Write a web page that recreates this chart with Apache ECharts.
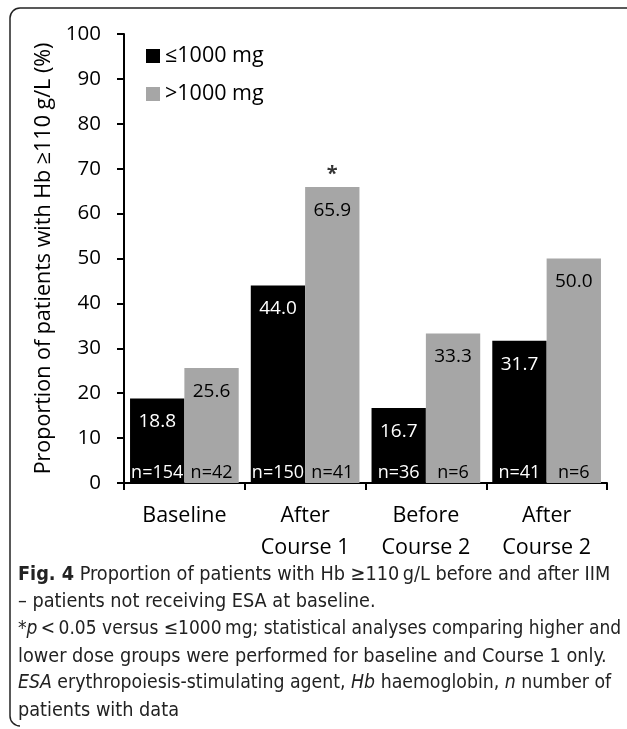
<!DOCTYPE html>
<html>
<head>
<meta charset="utf-8">
<script src="https://cdn.jsdelivr.net/npm/echarts@6/dist/echarts.min.js"></script>
<style>
  html, body { margin: 0; padding: 0; background: #fff; }
  #main { width: 627px; height: 729px; }
</style>
</head>
<body>
<div id="main"></div>
<script>
// data
var categories = ['Baseline', 'After\nCourse 1', 'Before\nCourse 2', 'After\nCourse 2'];
var lowDose = [18.8, 44.0, 16.7, 31.7];   // ≤1000 mg
var highDose = [25.6, 65.9, 33.3, 50.0];  // >1000 mg
var lowN = [154, 150, 36, 41];
var highN = [42, 41, 6, 6];
var starIdx = [1]; // p < 0.05 vs ≤1000 mg
var yTicks = { min: 0, max: 100, interval: 10 };

var chartFont = "'Open Sans', sans-serif";
var capFont = "'DejaVu Sans Condensed', sans-serif";

var myChart = echarts.init(document.getElementById('main'));

// caption lines under the chart (size tuned per line to the original widths)
var capLines = [
    '{b|Fig. 4} Proportion of patients with Hb ≥110\u2009g/L before and after IIM',
    '– patients not receiving ESA at baseline.',
    '*{i|p}\u2009<\u20090.05 versus ≤1000\u2009mg; statistical analyses comparing higher and',
    'lower dose groups were performed for baseline and Course 1 only.',
    '{i|ESA} erythropoiesis-stimulating agent, {i|Hb} haemoglobin, {i|n} number of',
    'patients with data'
];
var capSizes = [19.7, 19.7, 19, 19.7, 19.3, 19.7];
var capGraphics = capLines.map(function (t, i) {
    var fs = capSizes[i];
    return {
        type: 'text',
        left: 18,
        top: 565 + i * 27.2,
        style: {
            text: t,
            fontFamily: capFont,
            fontSize: fs,
            fill: '#222',
            rich: {
                b: { fontFamily: capFont, fontSize: fs, fontWeight: 'bold', fill: '#222' },
                i: { fontFamily: capFont, fontSize: fs, fontStyle: 'italic', fill: '#222' }
            }
        }
    };
});

// frame: top and left edges with rounded corners
var frame = [
    { type: 'line', shape: { x1: 20, y1: 8, x2: 627, y2: 8 }, style: { stroke: '#222', lineWidth: 1.5 } },
    { type: 'line', shape: { x1: 10, y1: 18, x2: 10, y2: 716 }, style: { stroke: '#222', lineWidth: 1.5 } },
    { type: 'arc', shape: { cx: 20, cy: 18, r: 10, startAngle: Math.PI, endAngle: Math.PI * 1.5 }, style: { stroke: '#222', lineWidth: 1.5, fill: null } },
    { type: 'arc', shape: { cx: 20, cy: 716, r: 10, startAngle: Math.PI * 0.5, endAngle: Math.PI }, style: { stroke: '#222', lineWidth: 1.5, fill: null } }
];

function barSeries(name, vals, color, txtColor) {
    return {
        name: name,
        type: 'bar',
        data: vals,
        barGap: '0%',
        barCategoryGap: '10%',
        itemStyle: { color: color },
        label: {
            show: true,
            position: 'insideTop',
            distance: 14,
            formatter: function (p) { return p.value.toFixed(1); },
            fontFamily: chartFont,
            fontSize: 19,
            color: txtColor
        }
    };
}
function nSeries(vals, txtColor) {
    return {
        type: 'bar',
        xAxisIndex: 1,
        data: vals.map(function () { return 0.001; }),
        barGap: '0%',
        barCategoryGap: '10%',
        itemStyle: { color: 'transparent' },
        silent: true,
        label: {
            show: true,
            position: 'insideBottom',
            distance: 1,
            formatter: function (p) { return 'n=' + vals[p.dataIndex]; },
            fontFamily: chartFont,
            fontSize: 18,
            color: txtColor
        }
    };
}

var option = {
    animation: false,
    textStyle: { fontFamily: chartFont },
    graphic: frame.concat(capGraphics),
    legend: {
        orient: 'vertical',
        left: 141,
        top: 40,
        itemWidth: 14,
        itemHeight: 14,
        itemGap: 16,
        icon: 'rect',
        data: ['≤1000 mg', '>1000 mg'],
        textStyle: { fontFamily: chartFont, fontSize: 21.5, color: '#000' }
    },
    grid: { left: 124, right: 20, top: 34, bottom: 246, containLabel: false },
    xAxis: [{
        type: 'category',
        data: categories,
        axisLine: { lineStyle: { color: '#000', width: 2 } },
        axisTick: { show: true, length: 7, lineStyle: { color: '#000', width: 2 } },
        axisLabel: { fontFamily: chartFont, fontSize: 21.5, color: '#000', lineHeight: 32, margin: 17 }
    }, {
        type: 'category',
        data: categories,
        show: false
    }],
    yAxis: {
        type: 'value',
        min: yTicks.min,
        max: yTicks.max,
        interval: yTicks.interval,
        name: 'Proportion of patients with Hb ≥110 g/L (%)',
        nameLocation: 'middle',
        nameGap: 67,
        nameTextStyle: { fontFamily: chartFont, fontSize: 21.5, color: '#000' },
        axisLine: { show: true, lineStyle: { color: '#000', width: 2 } },
        axisTick: { show: true, length: 7, lineStyle: { color: '#000', width: 2 } },
        splitLine: { show: false },
        axisLabel: { fontFamily: chartFont, fontSize: 20.5, color: '#000', margin: 23 }
    },
    series: [
        barSeries('≤1000 mg', lowDose, '#000', '#fff'),
        barSeries('>1000 mg', highDose, '#a6a6a6', '#000'),
        nSeries(lowN, '#fff'),
        nSeries(highN, '#000'),
        {
            // significance asterisk above the >1000 mg bar
            type: 'scatter',
            xAxisIndex: 1,
            data: starIdx.map(function (i) { return [i, highDose[i]]; }),
            symbolSize: 1,
            itemStyle: { color: 'transparent' },
            silent: true,
            label: {
                show: true,
                position: 'top',
                distance: 2,
                offset: [27, 0],
                formatter: '*',
                fontFamily: chartFont,
                fontSize: 20,
                fontWeight: 'bold',
                color: '#000'
            }
        }
    ]
};

myChart.setOption(option);
</script>
</body>
</html>
